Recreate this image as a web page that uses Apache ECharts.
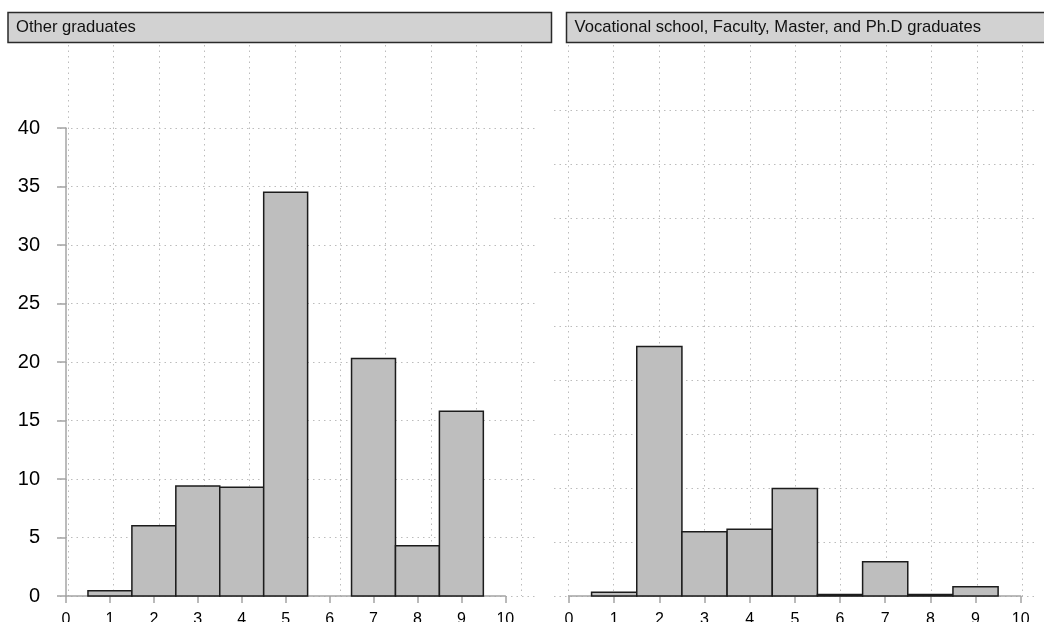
<!DOCTYPE html>
<html>
<head>
<meta charset="utf-8">
<script src="https://cdn.jsdelivr.net/npm/echarts@6/dist/echarts.min.js"></script>
<style>
  html, body { margin: 0; padding: 0; background: #fff; }
  #chart { width: 1044px; height: 622px; }
</style>
</head>
<body>
<div id="chart"></div>
<script>
// panel titles
const panelTitles = ['Other graduates', 'Vocational school, Faculty, Master, and Ph.D graduates']

// bin centres (x) and percent per bin
const bins = [1, 2, 3, 4, 5, 6, 7, 8, 9]
const otherPct = [0.45, 6.0, 9.4, 9.3, 34.5, 0, 20.3, 4.3, 15.8]
const higherPct = [0.7, 46.2, 11.9, 12.35, 19.9, 0.3, 6.35, 0.3, 1.7]

const xTicks = [0, 10, 1] // min, max, step
const leftY = [0, 40, 5]
const rightY = [0, 90, 10]

const chart = echarts.init(document.getElementById('chart'))

const dotted = { color: '#bcbcbc', width: 1, type: [1.5, 4] }
const axisGray = { color: '#a4a4a4', width: 1.5 }

function pairs(vals) {
  return bins.map((b, i) => [b, vals[i]]).filter(d => d[1] > 0)
}

function renderBar(params, api) {
  const x = api.value(0)
  const v = api.value(1)
  const p0 = api.coord([x - 0.5, v])
  const p1 = api.coord([x + 0.5, 0])
  return {
    type: 'rect',
    shape: { x: p0[0], y: p0[1], width: p1[0] - p0[0], height: p1[1] - p0[1] },
    style: { fill: '#bebebe', stroke: '#1c1c1c', lineWidth: 1.5 },
  }
}

function header(x, w, text) {
  return [
    {
      type: 'rect',
      shape: { x: x, y: 12.5, width: w, height: 30 },
      style: { fill: '#d2d2d2', stroke: '#2a2a2a', lineWidth: 1.5 },
    },
    {
      type: 'text',
      x: x + 8,
      y: 27.5,
      style: { text: text, fill: '#111', font: '16.6px "Liberation Sans", Arial, sans-serif', verticalAlign: 'middle' },
    },
  ]
}

const xLabel = { color: '#000', fontSize: 16, margin: 16, fontFamily: 'Liberation Sans' }

function g(left, width, top, height) {
  return { left, width, top, height, outerBoundsMode: 'none', containLabel: false }
}

chart.setOption({
  animation: false,
  backgroundColor: '#fff',
  grid: [
    // left: horizontal grid, vertical grid, data
    g(60, 475, 128, 468),
    g(68.3, 453.4, 45, 551),
    g(66, 439.3, 128, 468),
    // right
    g(554, 481, 110, 486),
    g(568.3, 454, 45, 551),
    g(569, 451.7, 110, 486),
  ],
  xAxis: [
    { gridIndex: 0, type: 'value', min: xTicks[0], max: xTicks[1], show: false },
    { gridIndex: 1, type: 'value', min: xTicks[0], max: xTicks[1], interval: xTicks[2],
      axisLine: { show: false }, axisTick: { show: false }, axisLabel: { show: false },
      splitLine: { show: true, lineStyle: dotted } },
    { gridIndex: 2, type: 'value', min: xTicks[0], max: xTicks[1], interval: xTicks[2],
      axisLine: { show: true, lineStyle: axisGray },
      axisTick: { show: true, length: 7, lineStyle: axisGray },
      axisLabel: xLabel,
      splitLine: { show: false } },
    { gridIndex: 3, type: 'value', min: xTicks[0], max: xTicks[1], show: false },
    { gridIndex: 4, type: 'value', min: xTicks[0], max: xTicks[1], interval: xTicks[2],
      axisLine: { show: false }, axisTick: { show: false }, axisLabel: { show: false },
      splitLine: { show: true, lineStyle: dotted } },
    { gridIndex: 5, type: 'value', min: xTicks[0], max: xTicks[1], interval: xTicks[2],
      axisLine: { show: true, lineStyle: axisGray },
      axisTick: { show: true, length: 7, lineStyle: axisGray },
      axisLabel: xLabel,
      splitLine: { show: false } },
  ],
  yAxis: [
    { gridIndex: 0, type: 'value', min: leftY[0], max: leftY[1], interval: leftY[2],
      axisLine: { show: false }, axisTick: { show: false }, axisLabel: { show: false },
      splitLine: { show: true, lineStyle: dotted } },
    { gridIndex: 1, type: 'value', show: false, splitLine: { show: false } },
    { gridIndex: 2, type: 'value', min: leftY[0], max: leftY[1], interval: leftY[2], offset: 12,
      axisLine: { show: true, lineStyle: axisGray },
      axisTick: { show: true, length: 9, lineStyle: axisGray },
      axisLabel: { color: '#000', fontSize: 20, margin: 14, fontFamily: 'Liberation Sans' },
      splitLine: { show: false } },
    { gridIndex: 3, type: 'value', min: rightY[0], max: rightY[1], interval: rightY[2],
      axisLine: { show: false }, axisTick: { show: false }, axisLabel: { show: false },
      splitLine: { show: true, lineStyle: dotted } },
    { gridIndex: 4, type: 'value', show: false, splitLine: { show: false } },
    { gridIndex: 5, type: 'value', min: rightY[0], max: rightY[1], show: false },
  ],
  graphic: [
    ...header(8, 543.5, panelTitles[0]),
    ...header(566.5, 485, panelTitles[1]),
  ],
  series: [
    { type: 'custom', xAxisIndex: 2, yAxisIndex: 2, renderItem: renderBar, data: pairs(otherPct), z: 3 },
    { type: 'custom', xAxisIndex: 5, yAxisIndex: 5, renderItem: renderBar, data: pairs(higherPct), z: 3 },
  ],
})
</script>
</body>
</html>
